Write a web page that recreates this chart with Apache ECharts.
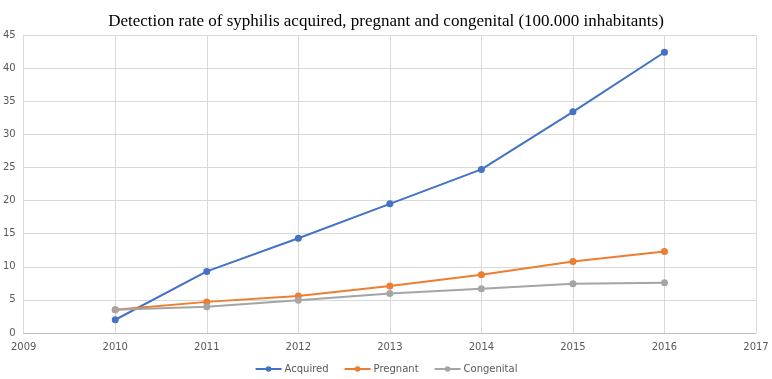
<!DOCTYPE html>
<html>
<head>
<meta charset="UTF-8">
<title>syphilis</title>
<script src="https://cdn.jsdelivr.net/npm/echarts@6/dist/echarts.min.js"></script>
<style>
  html, body { margin: 0; padding: 0; background: #fff; }
  #chart { width: 772px; height: 379px; }
</style>
</head>
<body>
<div id="chart"></div>
<script>
var years = [2010, 2011, 2012, 2013, 2014, 2015, 2016];
var acquired = [2.0, 9.3, 14.3, 19.5, 24.7, 33.4, 42.4];
var pregnant = [3.5, 4.7, 5.6, 7.1, 8.8, 10.8, 12.3];
var congenital = [3.5, 3.95, 4.95, 5.95, 6.7, 7.45, 7.6];

function pairs(vals) {
  var out = [];
  for (var i = 0; i < years.length; i++) out.push([years[i], vals[i]]);
  return out;
}

function line(name, vals, color) {
  return {
    name: name,
    type: 'line',
    data: pairs(vals),
    symbol: 'circle',
    symbolSize: 7,
    itemStyle: { color: color },
    lineStyle: { color: color, width: 2 }
  };
}

var chart = echarts.init(document.getElementById('chart'));
chart.setOption({
  animation: false,
  title: {
    text: 'Detection rate of syphilis acquired, pregnant and congenital (100.000 inhabitants)',
    left: 'center',
    top: 8,
    textStyle: { fontFamily: 'Liberation Serif', fontSize: 17, fontWeight: 'normal', color: '#000' }
  },
  legend: {
    bottom: 0,
    left: 'center',
    itemWidth: 26,
    itemHeight: 7,
    itemGap: 15,
    textStyle: { fontFamily: 'DejaVu Sans', fontSize: 10, color: '#595959', padding: [0, 0, 0, -2] },
    data: ['Acquired', 'Pregnant', 'Congenital']
  },
  grid: { left: 22, right: 16, top: 35, bottom: 46 },
  xAxis: {
    type: 'value',
    min: 2009,
    max: 2017,
    interval: 1,
    axisLine: { show: true, lineStyle: { color: '#bfbfbf' } },
    axisTick: { show: false },
    axisLabel: {
      color: '#595959', fontFamily: 'DejaVu Sans', fontSize: 10, margin: 9,
      formatter: function (v) { return String(v); }
    },
    splitLine: { show: true, lineStyle: { color: '#d9d9d9' } }
  },
  yAxis: {
    type: 'value',
    min: 0,
    max: 45,
    interval: 5,
    axisLine: { show: false },
    axisTick: { show: false },
    axisLabel: { color: '#595959', fontFamily: 'DejaVu Sans', fontSize: 10, margin: 8 },
    splitLine: { show: true, lineStyle: { color: '#d9d9d9' } }
  },
  series: [
    line('Acquired', acquired, '#4472C4'),
    line('Pregnant', pregnant, '#ED7D31'),
    line('Congenital', congenital, '#A5A5A5')
  ]
});
</script>
</body>
</html>
